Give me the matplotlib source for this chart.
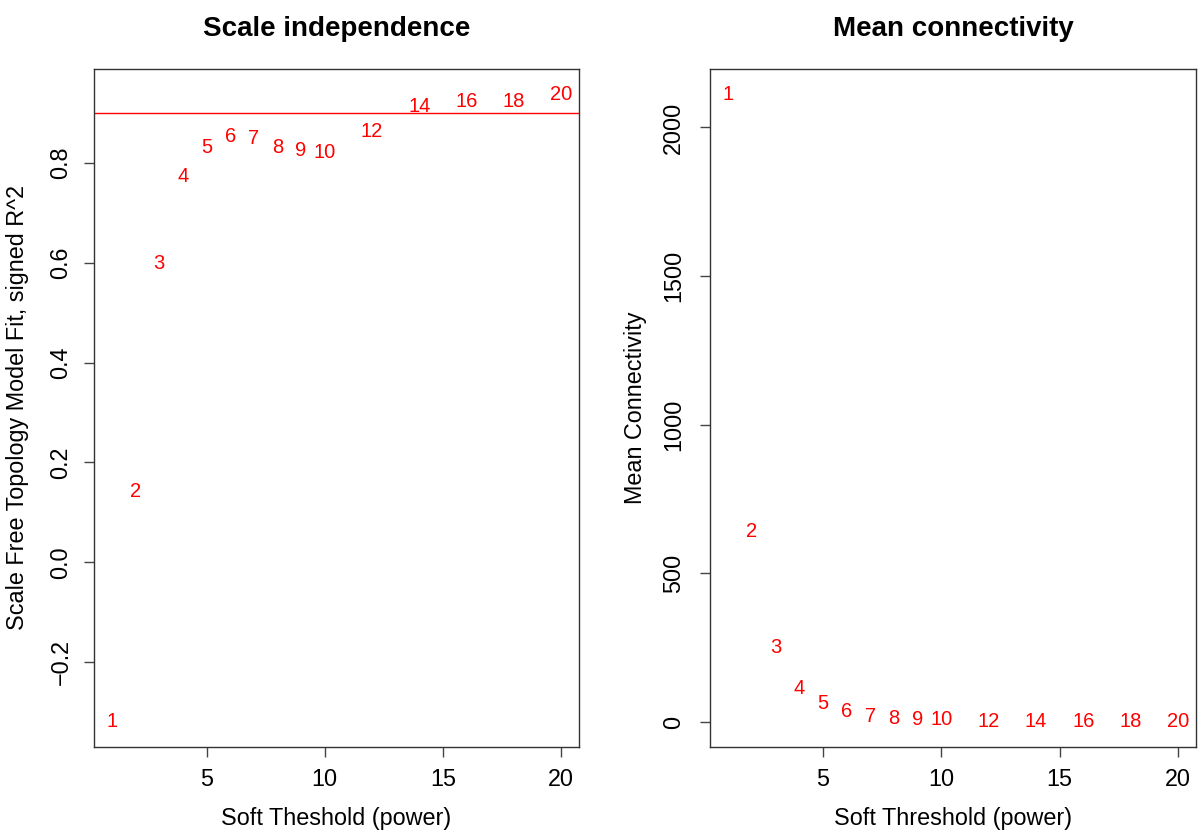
import matplotlib
matplotlib.use("Agg")
import matplotlib.pyplot as plt

plt.rcParams['font.family'] = ['Liberation Sans', 'DejaVu Sans']

powers = [1, 2, 3, 4, 5, 6, 7, 8, 9, 10, 12, 14, 16, 18, 20]
signed_r2 = [-0.319, 0.141, 0.599, 0.772, 0.831, 0.852, 0.848, 0.830,
             0.825, 0.821, 0.863, 0.912, 0.922, 0.922, 0.937]
mean_k = [2112, 641, 250, 112, 61, 34, 19, 13, 8, 7, 2, 1, 0.5, 0.5, 0.4]
r2_cut = 0.90

LAB = 16.8


def r_limits(vals):
    lo, hi = min(vals), max(vals)
    d = (hi - lo) * 0.04
    return lo - d, hi + d


def style_axis(ax, yticks, ylabels, ypad):
    ax.set_xlim(r_limits(powers))
    ax.set_xticks([5, 10, 15, 20])
    ax.set_yticks(yticks)
    ax.set_yticklabels(ylabels, rotation=90, va='center')
    ax.tick_params(axis='both', direction='out', length=7.5, width=1,
                   labelsize=LAB, color='#444444')
    ax.tick_params(axis='x', pad=7.5)
    ax.tick_params(axis='y', pad=ypad)
    for s in ax.spines.values():
        s.set_linewidth(1)
        s.set_color('#333333')


fig = plt.figure(figsize=(12.01, 8.32), dpi=100)
ax1 = fig.add_axes([94 / 1201, 1 - 747 / 832, 485 / 1201, 678 / 832])
ax2 = fig.add_axes([710 / 1201, 1 - 747 / 832, 486 / 1201, 678 / 832])

# left: scale independence
for p, v in zip(powers, signed_r2):
    ax1.text(p, v, str(p), color='red', fontsize=14.5, ha='center', va='center')
ax1.axhline(r2_cut, color='red', lw=1)
ax1.set_ylim(r_limits(signed_r2))
style_axis(ax1, [-0.2, 0.0, 0.2, 0.4, 0.6, 0.8],
           ['\u22120.2', '0.0', '0.2', '0.4', '0.6', '0.8'], 8)
ax1.set_xlabel('Soft Theshold (power)', fontsize=LAB)
ax1.set_ylabel('Scale Free Topology Model Fit, signed R^2', fontsize=LAB)
ax1.xaxis.set_label_coords(0.5, -0.106)
ax1.xaxis.label.set_va('center')
ax1.yaxis.set_label_coords(-0.157, 0.5)
ax1.yaxis.label.set_va('center')
ax1.set_title('Scale independence', fontsize=20, fontweight='bold',
              y=1.059, va='center', pad=0)

# right: mean connectivity
for p, v in zip(powers, mean_k):
    ax2.text(p, v, str(p), color='red', fontsize=14.5, ha='center', va='center')
ax2.set_ylim(r_limits(mean_k))
style_axis(ax2, [0, 500, 1000, 1500, 2000],
           ['0', '500', '1000', '1500', '2000'], 10.5)
ax2.set_xlabel('Soft Threshold (power)', fontsize=LAB)
ax2.set_ylabel('Mean Connectivity', fontsize=LAB)
ax2.xaxis.set_label_coords(0.5, -0.106)
ax2.xaxis.label.set_va('center')
ax2.yaxis.set_label_coords(-0.154, 0.5)
ax2.yaxis.label.set_va('center')
ax2.set_title('Mean connectivity', fontsize=20, fontweight='bold',
              y=1.059, va='center', pad=0)

fig.savefig('out.png', dpi=100)
